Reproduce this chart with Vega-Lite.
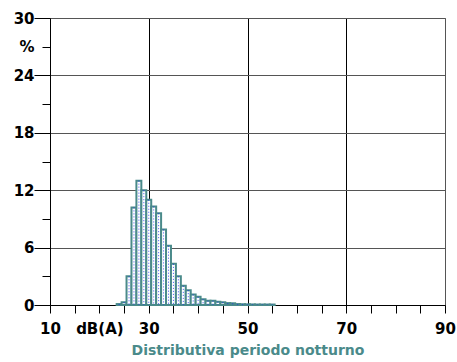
{
  "$schema": "https://vega.github.io/schema/vega-lite/v6.json",
  "autosize": "none",
  "width": 395,
  "height": 287,
  "padding": {"left": 50, "top": 18, "right": 12, "bottom": 57},
  "background": "white",
  "config": {
    "view": {"stroke": "#555", "strokeWidth": 1},
    "font": "DejaVu Sans"
  },
  "data": {
    "values": [
      {"db": 24, "pct": 0.1},
      {"db": 25, "pct": 0.3},
      {"db": 26, "pct": 3.0},
      {"db": 27, "pct": 10.2},
      {"db": 28, "pct": 13.0},
      {"db": 29, "pct": 12.0},
      {"db": 30, "pct": 11.0},
      {"db": 31, "pct": 10.3},
      {"db": 32, "pct": 9.6},
      {"db": 33, "pct": 7.9},
      {"db": 34, "pct": 6.2},
      {"db": 35, "pct": 4.3},
      {"db": 36, "pct": 3.0},
      {"db": 37, "pct": 2.0},
      {"db": 38, "pct": 1.55},
      {"db": 39, "pct": 1.1},
      {"db": 40, "pct": 0.85},
      {"db": 41, "pct": 0.6},
      {"db": 42, "pct": 0.45},
      {"db": 43, "pct": 0.45},
      {"db": 44, "pct": 0.35},
      {"db": 45, "pct": 0.3},
      {"db": 46, "pct": 0.2},
      {"db": 47, "pct": 0.18},
      {"db": 48, "pct": 0.1},
      {"db": 49, "pct": 0.08},
      {"db": 50, "pct": 0.07},
      {"db": 51, "pct": 0.06},
      {"db": 52, "pct": 0.05},
      {"db": 53, "pct": 0.05},
      {"db": 54, "pct": 0.05},
      {"db": 55, "pct": 0.05}
    ]
  },
  "transform": [
    {"calculate": "datum.db - 0.5", "as": "lo"},
    {"calculate": "datum.db + 0.5", "as": "hi"}
  ],
  "resolve": {"axis": {"x": "independent", "y": "independent"}},
  "layer": [
    {
      "mark": {"type": "bar", "fill": "white", "stroke": "#4a8a8a", "strokeWidth": 2},
      "encoding": {
        "x": {
          "field": "lo", "type": "quantitative",
          "scale": {"domain": [10, 90], "nice": false, "zero": false},
          "axis": {
            "orient": "bottom",
            "values": [10, 15, 20, 25, 30, 35, 40, 45, 50, 55, 60, 65, 70, 75, 80, 85, 90],
            "labelExpr": "datum.value == 20 ? 'dB(A)' : (datum.value % 20 == 10 ? datum.label : '')",
            "labelFont": "DejaVu Sans", "labelFontWeight": "bold", "labelFontSize": 15, "labelColor": "black",
            "labelPadding": 8, "labelOverlap": false, "labelFlush": false,
            "tickSize": 8, "tickColor": "black", "tickWidth": 1,
            "domainColor": "black", "domainWidth": 1,
            "grid": false,
            "title": "Distributiva periodo notturno",
            "titleColor": "#4a8a8a", "titleFont": "DejaVu Sans", "titleFontWeight": "bold", "titleFontSize": 14,
            "titlePadding": 7
          }
        },
        "x2": {"field": "hi"},
        "y": {
          "field": "pct", "type": "quantitative",
          "scale": {"domain": [0, 30], "nice": false},
          "axis": {
            "orient": "left",
            "values": [0, 6, 12, 18, 24, 30],
            "labelFont": "DejaVu Sans", "labelFontWeight": "bold", "labelFontSize": 15, "labelColor": "black",
            "labelPadding": 0, "labelOverlap": false, "labelFlush": false,
            "tickSize": 16, "tickColor": "black", "tickWidth": 1,
            "domainColor": "black", "domainWidth": 1,
            "grid": true, "gridColor": "#555", "gridWidth": 1,
            "title": null
          }
        },
        "y2": {"datum": 0}
      }
    },
    {
      "mark": {"type": "rule", "stroke": "#2233ee", "strokeWidth": 1, "strokeDash": [1, 2], "opacity": 0.85},
      "encoding": {
        "x": {
          "field": "db", "type": "quantitative",
          "axis": {
            "orient": "bottom",
            "values": [30, 50, 70],
            "labels": false, "ticks": false, "domain": false,
            "grid": true, "gridColor": "black", "gridWidth": 1,
            "title": null
          }
        },
        "y": {
          "field": "pct", "type": "quantitative",
          "axis": {
            "orient": "left",
            "values": [3, 9, 15, 21, 27],
            "labelExpr": "datum.value == 27 ? '%' : ''",
            "labelFont": "DejaVu Sans", "labelFontWeight": "bold", "labelFontSize": 15, "labelColor": "black",
            "labelPadding": 8, "labelOverlap": false, "labelFlush": false,
            "tickSize": 8, "tickColor": "black", "tickWidth": 1,
            "domain": false, "grid": false,
            "title": null
          }
        },
        "y2": {"datum": 0}
      }
    }
  ]
}
